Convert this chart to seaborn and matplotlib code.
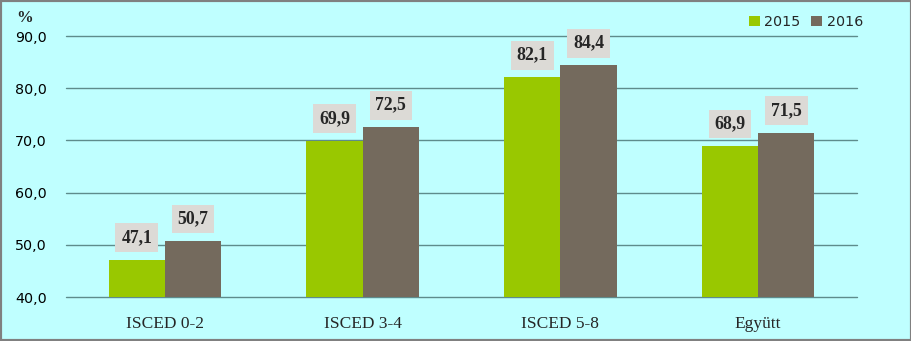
import matplotlib
matplotlib.use("Agg")
import matplotlib.pyplot as plt
import seaborn as sns
import pandas as pd
from matplotlib.patches import Rectangle

categories = ["ISCED 0-2", "ISCED 3-4", "ISCED 5-8", "Együtt"]
years = ["2015", "2016"]
values_2015 = [47.1, 69.9, 82.1, 68.9]
values_2016 = [50.7, 72.5, 84.4, 71.5]
yticks = [40, 50, 60, 70, 80, 90]

df = pd.DataFrame({
    "cat": categories * 2,
    "year": [years[0]] * 4 + [years[1]] * 4,
    "val": values_2015 + values_2016,
})

bg = "#bfffff"
colors = {"2015": "#99c800", "2016": "#746a5d"}
grid_c = "#5e8c8c"

sns.set_theme(style="white")
plt.rcParams["font.family"] = ["DejaVu Sans"]

fig = plt.figure(figsize=(9.12, 3.41), dpi=100)
fig.patch.set_facecolor(bg)
ax = fig.add_axes([0.0724, 0.129, 0.8673, 0.765])
ax.set_facecolor(bg)

sns.barplot(data=df, x="cat", y="val", hue="year", palette=colors,
            width=0.57, saturation=1, ax=ax, legend=True, order=categories,
            hue_order=years, errorbar=None, linewidth=0, edgecolor="none")

ax.set_ylim(40, 90)
ax.set_xlim(-0.5, 3.5)
ax.set_yticks(yticks)
ax.set_yticklabels([f"{v:.1f}".replace(".", ",") for v in yticks], fontsize=10.3, color="black")
ax.set_xticks(range(len(categories)))
ax.set_xticklabels(categories, fontsize=12.5, family="Liberation Serif")
ax.tick_params(axis="x", length=0, pad=14)
ax.tick_params(axis="y", length=0, pad=14)
for y in yticks:
    ax.axhline(y, color=grid_c, lw=1, zorder=0.5, clip_on=False)
for s in ax.spines.values():
    s.set_visible(False)
ax.set_xlabel("")
ax.set_ylabel("")

for p in ax.patches:
    h = p.get_height()
    if h <= 0 or p.get_width() <= 0:
        continue
    x = p.get_x() + p.get_width() / 2
    ax.annotate(f"{h:.1f}".replace(".", ","), xy=(x, h), xytext=(0, 16),
                textcoords="offset points", ha="center", va="center",
                fontsize=12.8, fontweight="bold", family="Liberation Serif",
                bbox=dict(boxstyle="square,pad=0.33", fc="#dcdad6", ec="none"))

ax.text(-0.063, 1.04, "%", transform=ax.transAxes, fontsize=12, fontweight="bold",
        family="Liberation Serif", ha="left", va="bottom")

handles, labels = ax.get_legend_handles_labels()
ax.legend_.remove()
fig.legend(handles, labels, loc="upper right", bbox_to_anchor=(0.957, 0.985),
           ncol=2, frameon=False, fontsize=10.3, handlelength=0.75, handleheight=0.75,
           handletextpad=0.3, columnspacing=0.8, borderaxespad=0.3)

fig.add_artist(Rectangle((0, 0), 1, 1, transform=fig.transFigure, fill=False,
                         ec="#808080", lw=3))

fig.savefig("out.png", dpi=100, facecolor=bg)
